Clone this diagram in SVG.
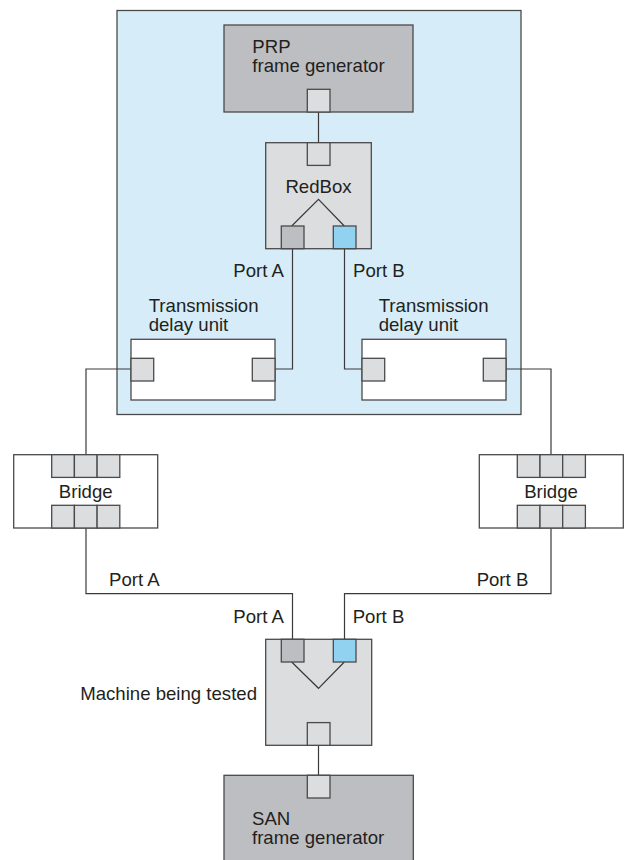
<svg xmlns="http://www.w3.org/2000/svg" width="628" height="860" viewBox="0 0 628 860">
<style>
.box{stroke:#4a4a4a;stroke-width:1.3}
.frame{fill:#d6edf9;stroke:#4a4a4a;stroke-width:1.3}
.gen{fill:#bdbec1}
.dev{fill:#dcdddf}
.white{fill:#ffffff}
.sq{fill:#dcdddf;stroke:#4a4a4a;stroke-width:1.3}
.pa{fill:#bdbec1;stroke:#4a4a4a;stroke-width:1.3}
.pb{fill:#92d2f1;stroke:#4a4a4a;stroke-width:1.3}
.wire{fill:none;stroke:#3a3a3a;stroke-width:1.2}
text{font-family:"Liberation Sans",Arial,sans-serif;font-size:18.6px;fill:#231f20}
.c{text-anchor:middle}
.e{text-anchor:end}
</style>
<rect x="117" y="10.5" width="404" height="404" class="frame"/>
<g id="connectors">
<path class="wire" d="M318.5 112 V143"/>
<path class="wire" d="M292.5 248.5 V369 H275"/>
<path class="wire" d="M344.5 248.5 V369 H362"/>
<path class="wire" d="M131 369 H86 V454.7"/>
<path class="wire" d="M506 369 H551 V454.7"/>
<path class="wire" d="M86 528 V593.7 H292.5 V639.3"/>
<path class="wire" d="M551 528 V593.7 H344.5 V639.3"/>
<path class="wire" d="M318.5 745.3 V775.3"/>
</g>
<g id="prp">
<rect x="224" y="25" width="189" height="87" class="box gen"/>
<rect x="307.3" y="89.3" width="22.7" height="22.7" class="sq"/>
<text x="252.3" y="52.7">PRP</text>
<text x="252.3" y="71.7">frame generator</text>
</g>
<g id="redbox">
<rect x="265.7" y="142.7" width="105.6" height="106" class="box dev"/>
<rect x="307.3" y="142.7" width="22.7" height="22.7" class="sq"/>
<text x="318.5" y="193" class="c">RedBox</text>
<path class="wire" d="M291.7 226 L318.5 199.3 L344.3 226"/>
<rect x="281.3" y="226" width="22.7" height="22.7" class="pa"/>
<rect x="333.3" y="226" width="22.7" height="22.7" class="pb"/>
</g>
<text x="284" y="276.7" class="e">Port A</text>
<text x="353" y="276.7">Port B</text>
<g id="tdu-left">
<text x="148.7" y="312">Transmission</text>
<text x="148.7" y="331">delay unit</text>
<rect x="131" y="339.3" width="144" height="60.7" class="box white"/>
<rect x="131" y="358.3" width="22.7" height="22.7" class="sq"/>
<rect x="252.3" y="358.3" width="22.7" height="22.7" class="sq"/>
</g>
<g id="tdu-right">
<text x="378.7" y="312">Transmission</text>
<text x="378.7" y="331">delay unit</text>
<rect x="362" y="339.3" width="144" height="60.7" class="box white"/>
<rect x="362" y="358.3" width="22.7" height="22.7" class="sq"/>
<rect x="483.3" y="358.3" width="22.7" height="22.7" class="sq"/>
</g>
<g id="bridge-left">
<rect x="13.7" y="454.7" width="144" height="73.3" class="box white"/>
<rect x="51.7" y="454.7" width="22.7" height="22.7" class="sq"/>
<rect x="74.4" y="454.7" width="22.7" height="22.7" class="sq"/>
<rect x="97.1" y="454.7" width="22.7" height="22.7" class="sq"/>
<rect x="51.7" y="505.3" width="22.7" height="22.7" class="sq"/>
<rect x="74.4" y="505.3" width="22.7" height="22.7" class="sq"/>
<rect x="97.1" y="505.3" width="22.7" height="22.7" class="sq"/>
<text x="85.7" y="498.3" class="c">Bridge</text>
</g>
<g id="bridge-right">
<rect x="479.3" y="454.7" width="144" height="73.3" class="box white"/>
<rect x="517.3" y="454.7" width="22.7" height="22.7" class="sq"/>
<rect x="540" y="454.7" width="22.7" height="22.7" class="sq"/>
<rect x="562.7" y="454.7" width="22.7" height="22.7" class="sq"/>
<rect x="517.3" y="505.3" width="22.7" height="22.7" class="sq"/>
<rect x="540" y="505.3" width="22.7" height="22.7" class="sq"/>
<rect x="562.7" y="505.3" width="22.7" height="22.7" class="sq"/>
<text x="551" y="498.3" class="c">Bridge</text>
</g>
<text x="109" y="585.7">Port A</text>
<text x="528.3" y="585.7" class="e">Port B</text>
<text x="284" y="623.3" class="e">Port A</text>
<text x="352.7" y="623.3">Port B</text>
<g id="machine">
<rect x="265.7" y="639.3" width="106" height="106" class="box dev"/>
<path class="wire" d="M291.7 662 L318.5 688.3 L344.3 662"/>
<rect x="281.3" y="639.3" width="22.7" height="22.7" class="pa"/>
<rect x="333.3" y="639.3" width="22.7" height="22.7" class="pb"/>
<rect x="307.3" y="722.6" width="22.7" height="22.7" class="sq"/>
<text x="257" y="700" class="e">Machine being tested</text>
</g>
<g id="san">
<rect x="224" y="775.3" width="189.3" height="90" class="box gen"/>
<rect x="307.3" y="775.3" width="22.7" height="22.7" class="sq"/>
<text x="252" y="825">SAN</text>
<text x="252" y="844">frame generator</text>
</g>
</svg>
